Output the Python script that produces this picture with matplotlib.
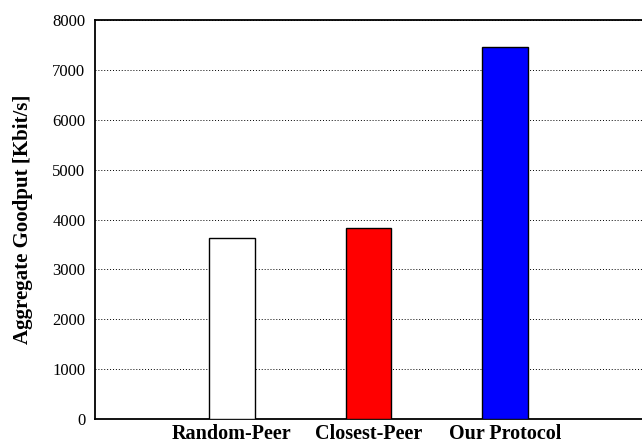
import matplotlib
matplotlib.use("Agg")
import matplotlib.pyplot as plt

# data
methods = ["Random-Peer", "Closest-Peer", "Our Protocol"]
goodput = [3635, 3825, 7460]
colors = ["white", "red", "blue"]
yticks = [0, 1000, 2000, 3000, 4000, 5000, 6000, 7000, 8000]

plt.rcParams["font.family"] = ["Liberation Serif", "DejaVu Serif"]

fig = plt.figure(figsize=(6.42, 4.45), dpi=100)
ax = fig.add_axes([95 / 642, 1 - 419 / 445, 1 - 95 / 642, 399 / 445])

pos = [1, 2, 3]
ax.bar(pos, goodput, width=0.336, color=colors, edgecolor="black", linewidth=1.0, zorder=3)

ax.set_xlim(0, 4)
ax.set_ylim(0, 8000)
ax.set_yticks(yticks)
ax.set_yticklabels([str(v) for v in yticks], fontsize=12)
ax.set_xticks(pos)
ax.set_xticklabels(methods, fontsize=14.5, fontweight="bold")
ax.tick_params(axis="y", length=0, pad=7)
ax.tick_params(axis="x", length=0, pad=3.5)

ax.yaxis.grid(True, linestyle=(0, (1, 2)), color="black", linewidth=0.7, zorder=0)
ax.set_axisbelow(True)

ax.spines["right"].set_visible(False)
for s in ["left", "top", "bottom"]:
    ax.spines[s].set_linewidth(1.3)

ax.set_ylabel("Aggregate Goodput [Kbit/s]", fontsize=15, fontweight="bold", labelpad=14)

fig.savefig("out.png", dpi=100)
